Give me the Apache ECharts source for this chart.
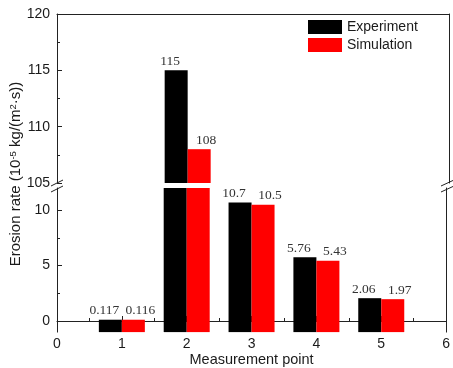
<!DOCTYPE html>
<html><head><meta charset="utf-8">
<script src="https://cdn.jsdelivr.net/npm/echarts@6/dist/echarts.min.js"></script>
<style>html,body{margin:0;padding:0;background:#fff}#c{width:453px;height:368px}</style>
</head><body><div id="c"></div>
<script>
// ---- data ----
const points = [1, 2, 3, 4, 5];
const experiment = [0.117, 115, 10.7, 5.76, 2.06];
const simulation = [0.116, 108, 10.5, 5.43, 1.97];
const lowerTicks = [0, 5, 10];
const lowerMinorTicks = [2.5, 7.5];
const lowerRange = [-1, 12];
const upperRange = [105, 120];
const xRange = [0, 6];
const seriesNames = ['Experiment', 'Simulation'];
const yTitle = 'Erosion rate (10{sup|-5} kg/(m{sup|2}·s))';
const xTitle = 'Measurement point';

const txt = '#1a1a1a';
const lineC = '#222';
const labelFont = 'Liberation Serif';

function pairs(vals) { return points.map((p, i) => [p, vals[i]]); }
function basePairs() { return points.map(p => [p, lowerRange[0]]); }

function lbl(offx, inRange) {
  return {
    show: true, position: 'top', distance: 2, offset: [offx, 0],
    fontFamily: labelFont, fontSize: 13.5, color: '#333',
    formatter: p => inRange(p.value[1]) ? String(p.value[1]) : ''
  };
}
const inUpper = v => v > upperRange[0] && v <= upperRange[1];
const inLower = v => v >= lowerRange[0] && v <= lowerRange[1];

const barW = 23;
const colors = ['#000000', '#ff0000'];
const lblOff = [-6, 7];
const data = [experiment, simulation];

const series = [];
seriesNames.forEach((n, k) => {
  series.push({
    name: n, type: 'bar', xAxisIndex: 0, yAxisIndex: 0, barWidth: barW, barGap: '0%',
    itemStyle: { color: colors[k] }, data: pairs(data[k]), clip: true,
    label: lbl(lblOff[k], inUpper)
  });
});
seriesNames.forEach((n, k) => {
  series.push({
    name: n, type: 'bar', xAxisIndex: 1, yAxisIndex: 1, barWidth: barW, barGap: '0%',
    stack: 's' + k, itemStyle: { color: colors[k] }, data: pairs(data[k]), clip: true,
    label: lbl(lblOff[k], inLower)
  });
  series.push({
    name: 'base' + k, type: 'bar', xAxisIndex: 1, yAxisIndex: 1, barWidth: barW, barGap: '0%',
    stack: 's' + k, itemStyle: { color: colors[k] }, data: basePairs(), clip: true, silent: true
  });
});

const axisLine = { show: true, lineStyle: { color: lineC, width: 1 } };
const L = 57, R = 4;

const option = {
  animation: false,
  backgroundColor: '#fff',
  textStyle: { fontFamily: 'Liberation Sans' },
  grid: [
    { left: L, right: R, top: 14, height: 169 },
    { left: L, right: R, top: 188, bottom: 35 }
  ],
  legend: {
    data: seriesNames, orient: 'vertical', left: 308, top: 20,
    itemWidth: 34, itemHeight: 14, itemGap: 4, padding: 0, icon: 'rect',
    textStyle: { fontSize: 14, color: txt, fontFamily: 'Liberation Sans' }
  },
  xAxis: [
    { gridIndex: 0, type: 'value', min: xRange[0], max: xRange[1], position: 'top',
      axisLine, axisTick: { show: false }, axisLabel: { show: false }, splitLine: { show: false } },
    { gridIndex: 1, type: 'value', min: xRange[0], max: xRange[1], interval: 1, position: 'bottom',
      axisLine, axisTick: { show: true, inside: true, length: 5, lineStyle: { color: lineC } },
      minorTick: { show: true, splitNumber: 2, length: 3, lineStyle: { color: lineC } },
      axisLabel: { fontSize: 14, color: txt, margin: 5 }, splitLine: { show: false }, minorSplitLine: { show: false },
      name: xTitle, nameLocation: 'middle', nameGap: 14,
      nameTextStyle: { fontSize: 14.5, color: txt } }
  ],
  yAxis: [
    { gridIndex: 0, type: 'value', min: upperRange[0], max: upperRange[1], interval: 5,
      axisLine, axisTick: { show: true, inside: true, length: 5, lineStyle: { color: lineC } },
      minorTick: { show: true, splitNumber: 2, length: 3, lineStyle: { color: lineC } },
      axisLabel: { fontSize: 14, color: txt, margin: 7 }, splitLine: { show: false } },
    { gridIndex: 1, type: 'value', min: lowerRange[0], max: lowerRange[1],
      axisLine, axisTick: { show: true, inside: true, length: 5, customValues: lowerTicks, lineStyle: { color: lineC } },
      axisLabel: { fontSize: 14, color: txt, margin: 7, customValues: lowerTicks }, splitLine: { show: false } },
    { gridIndex: 1, type: 'value', min: lowerRange[0], max: lowerRange[1], position: 'left',
      axisLine: { show: false }, axisTick: { show: true, inside: true, length: 3, customValues: lowerMinorTicks, lineStyle: { color: lineC } },
      axisLabel: { show: false }, splitLine: { show: false } },
    { gridIndex: 0, type: 'value', min: upperRange[0], max: upperRange[1], position: 'right',
      axisLine, axisTick: { show: false }, axisLabel: { show: false }, splitLine: { show: false } },
    { gridIndex: 1, type: 'value', min: lowerRange[0], max: lowerRange[1], position: 'right',
      axisLine, axisTick: { show: false }, axisLabel: { show: false }, splitLine: { show: false } }
  ],
  graphic: [
    { type: 'text', x: 16, y: 174, rotation: Math.PI / 2,
      style: { text: yTitle, fontSize: 15, fontFamily: 'Liberation Sans', fill: txt,
        align: 'center', verticalAlign: 'middle',
        rich: { sup: { fontSize: 9.5, verticalAlign: 'top', fill: txt, fontFamily: 'Liberation Sans' } } } },
    { type: 'line', shape: { x1: 51, y1: 186, x2: 63, y2: 180 }, style: { stroke: lineC, lineWidth: 1 } },
    { type: 'line', shape: { x1: 51, y1: 192, x2: 63, y2: 186 }, style: { stroke: lineC, lineWidth: 1 } },
    { type: 'line', shape: { x1: 441, y1: 186, x2: 454, y2: 180 }, style: { stroke: lineC, lineWidth: 1 } },
    { type: 'line', shape: { x1: 441, y1: 192, x2: 454, y2: 186 }, style: { stroke: lineC, lineWidth: 1 } }
  ],
  series
};
const chart = echarts.init(document.getElementById('c'), null, { renderer: 'canvas' });
chart.setOption(option);
</script>
</body></html>
